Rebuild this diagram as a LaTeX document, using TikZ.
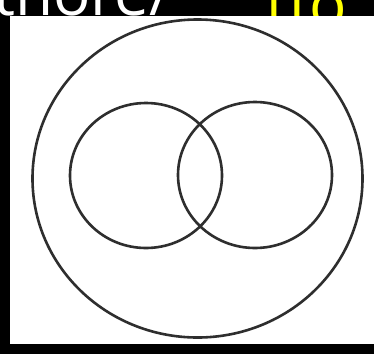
\documentclass[tikz,border=0pt]{standalone}
\usepackage{fontspec}
\setsansfont{Open Sans}
\usetikzlibrary{shapes.geometric}
\definecolor{inkgray}{HTML}{2E2E2E}
\definecolor{capyellow}{HTML}{FFFF00}
\tikzset{
    venn diagram/.style = {x=1pt, y=-1pt},
    ring/.style         = {draw=inkgray, line width=2.6pt, ellipse,
                           inner sep=0pt, outer sep=0pt},
    caption/.style      = {font=\sffamily\fontsize{62}{70}\selectfont,
                           inner sep=0pt, anchor=base west},
    panel/.style        = {fill=white}
}

\begin{document}
\begin{tikzpicture}[venn diagram]

\useasboundingbox (0,0) rectangle (374,354);
\fill[black] (0,0) rectangle (374,354);

% cut-off caption above the picture
\begin{scope}
    \clip (0,0) rectangle (374,16);
    \node[caption, text=white] (capleft) at (-7,15) {thore/};
    \node[caption, text=capyellow] (capright) at (266,26)
          {l\hspace{8pt}l\hspace{4pt}o};
\end{scope}

\fill[panel] (10,16) rectangle (374,344);

\node[ring, minimum width=330pt, minimum height=318pt] (universe)
    at (197.5,178.5) {};
\node[ring, minimum width=152pt, minimum height=145pt] (setA)
    at (146,175.5) {};
\node[ring, minimum width=154pt, minimum height=146pt] (setB)
    at (255,175) {};

\end{tikzpicture}
\end{document}
